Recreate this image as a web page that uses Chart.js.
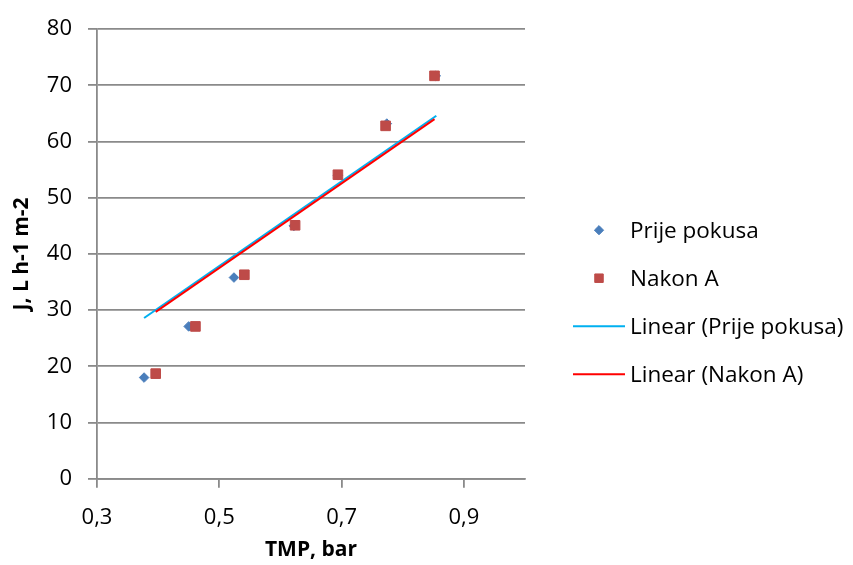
<!DOCTYPE html>
<html>
<head>
<meta charset="utf-8">
<script src="https://cdn.jsdelivr.net/npm/chart.js@4.4.0/dist/chart.umd.min.js"></script>
<style>
  html, body { margin: 0; padding: 0; background: #fff; }
</style>
</head>
<body>
<canvas id="chart" width="853" height="565"></canvas>
<script>
// Measured points (TMP in bar, flux J in L h-1 m-2)
const prijeX = [0.377, 0.450, 0.524, 0.622, 0.694, 0.774, 0.854];
const prijeY = [18.0, 27.1, 35.8, 45.0, 54.0, 63.2, 71.7];
const nakonX = [0.396, 0.461, 0.541, 0.624, 0.694, 0.772, 0.852];
const nakonY = [18.7, 27.1, 36.3, 45.1, 54.1, 62.8, 71.7];

// Trendline end points as drawn in the original
const trendPrijeX = [0.377, 0.855];
const trendPrijeY = [28.6, 64.6];
const trendNakonX = [0.396, 0.852];
const trendNakonY = [29.7, 64.0];

const xTicks = [0.3, 0.5, 0.7, 0.9];
const yTicks = [0, 10, 20, 30, 40, 50, 60, 70, 80];

const FONT = "'Open Sans', Lato, sans-serif";
const GRID = '#8a8a8a';

function toPoints(xs, ys) {
    return xs.map((x, i) => ({ x: x, y: ys[i] }));
}

const sideLegend = {
    id: 'sideLegend',
    afterDraw(chart) {
        const ctx = chart.ctx;
        const area = chart.chartArea;
        const mx = area.right + 74;
        let y = area.top + 201;
        ctx.save();
        ctx.font = '22.5px ' + FONT;
        ctx.fillStyle = '#000';
        ctx.textBaseline = 'middle';
        chart.data.datasets.forEach(ds => {
            if (ds.showLine) {
                ctx.strokeStyle = ds.borderColor;
                ctx.lineWidth = 2;
                ctx.beginPath();
                ctx.moveTo(mx - 26, y);
                ctx.lineTo(mx + 26, y);
                ctx.stroke();
            } else {
                ctx.fillStyle = ds.backgroundColor;
                ctx.strokeStyle = ds.borderColor;
                Chart.helpers.drawPoint(ctx, {
                    pointStyle: ds.pointStyle,
                    radius: ds.legendRadius,
                    borderWidth: 1,
                    rotation: 0
                }, mx, y);
                ctx.fillStyle = '#000';
            }
            ctx.fillText(ds.label, mx + 31, y + 1);
            y += 48;
        });
        ctx.restore();
    }
};

new Chart(document.getElementById('chart'), {
    type: 'scatter',
    data: {
        datasets: [
            {
                label: 'Prije pokusa',
                data: toPoints(prijeX, prijeY),
                pointStyle: 'rectRot',
                pointRadius: 4.8,
                legendRadius: 4.6,
                backgroundColor: '#4a7ebb',
                borderColor: '#4a7ebb',
                borderWidth: 1,
                order: 1
            },
            {
                label: 'Nakon A',
                data: toPoints(nakonX, nakonY),
                pointStyle: 'rect',
                pointRadius: 6.8,
                legendRadius: 6.0,
                backgroundColor: '#be4b48',
                borderColor: '#be4b48',
                borderWidth: 1,
                order: 0
            },
            {
                label: 'Linear (Prije pokusa)',
                data: toPoints(trendPrijeX, trendPrijeY),
                showLine: true,
                pointRadius: 0,
                borderColor: '#00b0f0',
                borderWidth: 2,
                order: 3
            },
            {
                label: 'Linear (Nakon A)',
                data: toPoints(trendNakonX, trendNakonY),
                showLine: true,
                pointRadius: 0,
                borderColor: '#ff0000',
                borderWidth: 2,
                order: 2
            }
        ]
    },
    options: {
        responsive: false,
        animation: false,
        layout: { padding: { top: 27, right: 328, bottom: 0, left: 0 } },
        plugins: {
            legend: { display: false },
            tooltip: { enabled: false }
        },
        scales: {
            x: {
                type: 'linear',
                min: 0.3,
                max: 1.0,
                afterBuildTicks: scale => { scale.ticks = xTicks.map(v => ({ value: v })); },
                afterFit: scale => { scale.height = 86.3; },
                ticks: {
                    color: '#000',
                    font: { family: FONT, size: 22 },
                    padding: 17,
                    callback: v => v.toFixed(1).replace('.', ',')
                },
                grid: { drawOnChartArea: false, drawTicks: true, tickLength: 9, color: GRID, lineWidth: 1.8 },
                border: { color: GRID, width: 1.8 },
                title: {
                    display: true,
                    text: 'TMP, bar',
                    color: '#000',
                    font: { family: FONT, size: 21, weight: 'bold' },
                    padding: { top: 0, bottom: 2 }
                }
            },
            y: {
                min: 0,
                max: 80,
                afterBuildTicks: scale => { scale.ticks = yTicks.map(v => ({ value: v })); },
                afterFit: scale => { scale.width = 97; },
                ticks: {
                    color: '#000',
                    font: { family: FONT, size: 22 },
                    padding: 16
                },
                grid: { drawOnChartArea: true, drawTicks: true, tickLength: 9, color: GRID, lineWidth: 1.8 },
                border: { color: GRID, width: 1.8 },
                title: {
                    display: true,
                    text: 'J, L h-1 m-2',
                    color: '#000',
                    font: { family: FONT, size: 21, weight: 'bold' },
                    padding: { top: 9, bottom: 0 }
                }
            }
        }
    },
    plugins: [sideLegend]
});
</script>
</body>
</html>
